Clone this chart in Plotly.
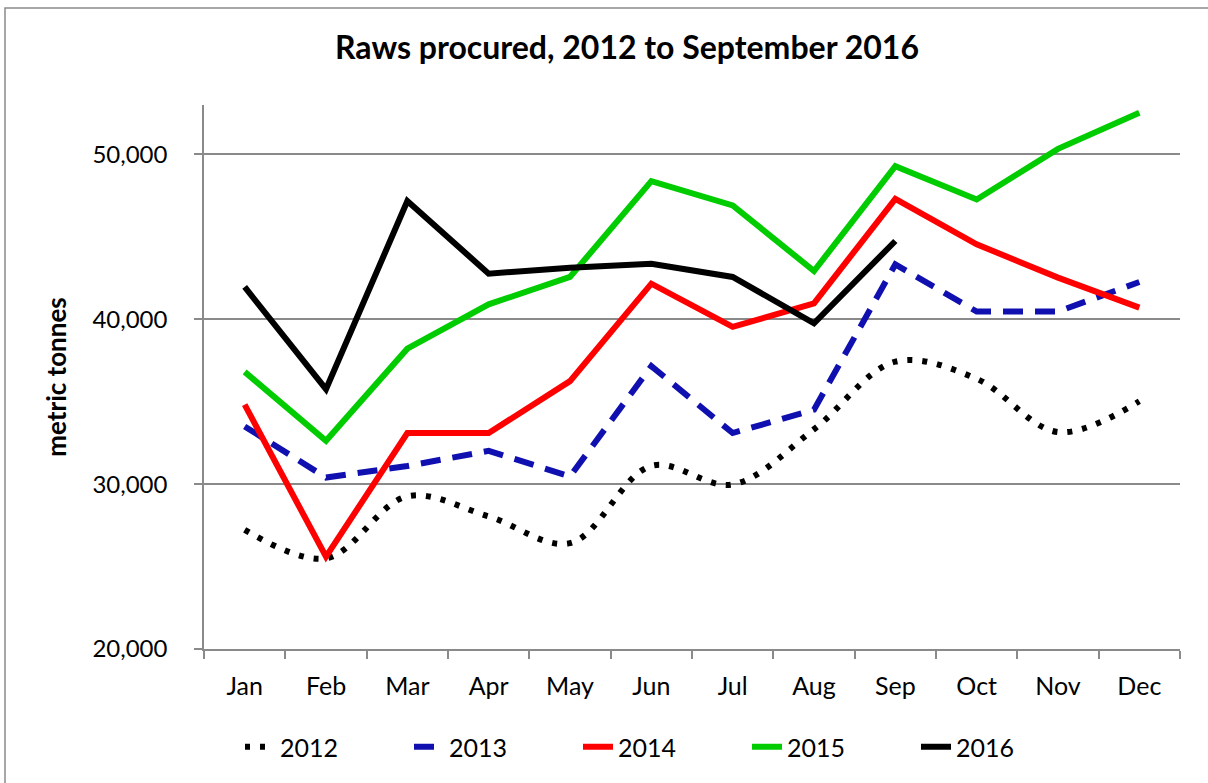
import plotly.graph_objects as go

months = ["Jan", "Feb", "Mar", "Apr", "May", "Jun", "Jul", "Aug", "Sep", "Oct", "Nov", "Dec"]

y2012 = [27230, 25500, 29260, 28040, 26420, 31110, 29980, 33330, 37430, 36390, 33160, 35030]
y2013 = [33500, 30400, 31100, 32020, 30470, 37160, 33100, 34520, 43330, 40470, 40470, 42260]
y2014 = [34820, 25600, 33100, 33100, 36250, 42160, 39540, 40970, 47310, 44550, 42530, 40710]
y2015 = [36810, 32630, 38220, 40910, 42570, 48380, 46910, 42930, 49290, 47270, 50340, 52530]
y2016 = [41960, 35760, 47170, 42770, 43130, 43370, 42570, 39760, 44750]

series_names = ["2012", "2013", "2014", "2015", "2016"]

FONT = "Lato"
W, H = 1208, 783
L, R, T, B = 204, 28, 105, 134

fig = go.Figure()
fig.add_trace(go.Scatter(x=months, y=y2012, name=series_names[0], mode="lines",
                         line=dict(color="#000000", width=6, dash="5px,10px", shape="spline", smoothing=1.0)))
fig.add_trace(go.Scatter(x=months, y=y2013, name=series_names[1], mode="lines",
                         line=dict(color="#1010B0", width=6, dash="20px,12px")))
fig.add_trace(go.Scatter(x=months, y=y2014, name=series_names[2], mode="lines",
                         line=dict(color="#FF0000", width=6)))
fig.add_trace(go.Scatter(x=months, y=y2015, name=series_names[3], mode="lines",
                         line=dict(color="#00CC00", width=6)))
fig.add_trace(go.Scatter(x=months[:len(y2016)], y=y2016, name=series_names[4], mode="lines",
                         line=dict(color="#000000", width=6)))

pw = W - L - R
ph = H - T - B

def px_x(p):
    return (p - L) / pw

def px_y(p):
    return (H - B - p) / ph

fig.add_shape(type="rect", xref="paper", yref="paper",
              x0=px_x(5), x1=px_x(1230), y0=px_y(800), y1=px_y(8),
              line=dict(color="#8a8a8a", width=1.5), fillcolor="rgba(0,0,0,0)", layer="below")

fig.update_layout(
    width=W, height=H, autosize=False,
    margin=dict(l=L, r=R, t=T, b=B, pad=0),
    paper_bgcolor="white", plot_bgcolor="white",
    font=dict(family=FONT, size=25, color="#000000"),
    title=dict(text="Raws procured, 2012 to September 2016",
               font=dict(family=FONT, size=32, weight="bold", color="#000000"),
               x=627 / W, xanchor="center", xref="container",
               y=1 - 48 / H, yanchor="middle", yref="container"),
    showlegend=True,
    legend=dict(orientation="h", x=px_x(240), xanchor="left", y=px_y(747), yanchor="middle",
                font=dict(family=FONT, size=25), entrywidth=124, entrywidthmode="pixels",
                bgcolor="rgba(0,0,0,0)", tracegroupgap=0),
    xaxis=dict(type="category", range=[-0.5, 11.5], tickson="boundaries",
               ticks="outside", ticklen=8, tickwidth=1.5, tickcolor="#8a8a8a",
               showline=True, linecolor="#8a8a8a", linewidth=1.5,
               showgrid=False, zeroline=False, ticklabelstandoff=14,
               tickfont=dict(family=FONT, size=25)),
    yaxis=dict(range=[20000, 53000], tick0=20000, dtick=10000, tickformat=",d",
               ticks="outside", ticklen=8, tickwidth=1.5, tickcolor="#8a8a8a",
               showline=True, linecolor="#8a8a8a", linewidth=1.5,
               showgrid=True, gridcolor="#8a8a8a", gridwidth=1.5, zeroline=False,
               ticklabelstandoff=22,
               tickfont=dict(family=FONT, size=24),
               title=dict(text="metric tonnes", standoff=18,
                          font=dict(family=FONT, size=26, weight="bold"))),
)

fig.write_html("out.html", include_plotlyjs=True, full_html=True,
               config={"displayModeBar": False},
               post_script="document.body.style.margin='0';")
